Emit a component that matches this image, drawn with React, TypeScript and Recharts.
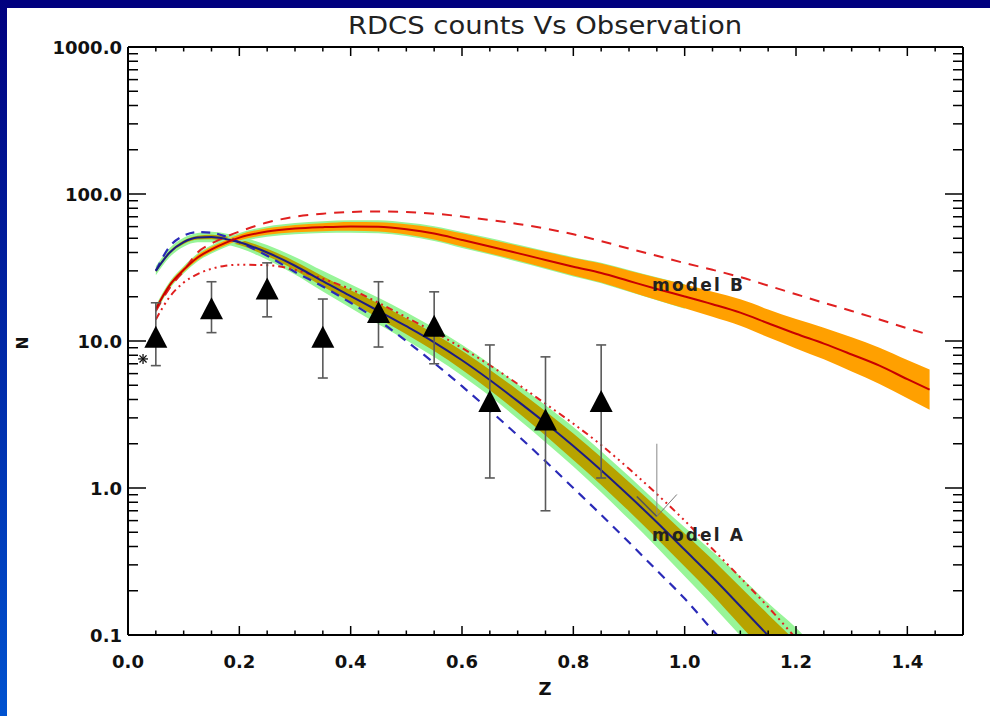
import React from 'react';
import { ComposedChart, Line, Area, Scatter, XAxis, YAxis, ErrorBar, ReferenceLine } from 'recharts';

// ---------------- data ----------------
const zGrid = [0.05, 0.075, 0.1, 0.125, 0.15, 0.175, 0.2, 0.25, 0.3, 0.35, 0.4, 0.45, 0.5, 0.55, 0.6, 0.65, 0.7, 0.75, 0.8, 0.85, 0.9, 0.95, 1.0, 1.05, 1.1, 1.15, 1.2, 1.25, 1.3, 1.35, 1.4, 1.44];

// model A (navy solid) and its bands
const modelA = [30, 40, 47, 50.5, 51, 49.5, 47, 40, 32.5, 25.5, 20.2, 16, 12.6, 9.8, 7.4, 5.43, 3.9, 2.77, 1.93, 1.32, 0.885, 0.585, 0.38, 0.247, 0.157, 0.099, 0.062, 0.038];
const modelAOliveLo = [29.3, 39.1, 45.7, 49.0, 49.3, 47.6, 44.9, 37.8, 30.3, 23.5, 18.4, 14.3, 11.1, 8.54, 6.37, 4.62, 3.28, 2.28, 1.55, 1.05, 0.695, 0.454, 0.292, 0.187, 0.116, 0.0725, 0.0449, 0.0272];
const modelAOliveHi = [30.7, 40.9, 48.3, 52.0, 52.8, 51.5, 49.2, 42.4, 34.8, 27.6, 22.1, 18.0, 14.3, 11.25, 8.59, 6.38, 4.64, 3.33, 2.35, 1.62, 1.10, 0.74, 0.49, 0.326, 0.212, 0.138, 0.09, 0.056];
const modelAGreenLo = [28.0, 37.3, 43.8, 46.9, 47.0, 45.5, 42.9, 35.7, 28.3, 21.7, 16.8, 13.0, 10.1, 7.78, 5.81, 4.22, 2.96, 2.05, 1.40, 0.934, 0.612, 0.396, 0.251, 0.159, 0.099, 0.0625, 0.0382, 0.0229];
const modelAGreenHi = [32.2, 42.9, 50.4, 54.3, 55.3, 53.9, 51.5, 44.9, 37.3, 30.0, 24.3, 19.7, 15.7, 12.3, 9.43, 6.99, 5.08, 3.65, 2.60, 1.78, 1.20, 0.80, 0.54, 0.37, 0.25, 0.165, 0.112, 0.07];
const modelADashDot = [14, 20, 25, 28.5, 31, 32.5, 33, 32.8, 30.5, 26.5, 22.5, 18.2, 14.5, 11.5, 8.97, 6.84, 5.1, 3.74, 2.74, 1.96, 1.35, 0.91, 0.6, 0.385, 0.246, 0.155, 0.095, 0.059];
const modelADashed = [30, 44, 52, 55, 54.5, 51.5, 47, 38, 29.5, 23.5, 18.2, 13.8, 10, 7.08, 4.93, 3.37, 2.28, 1.52, 1.0, 0.657, 0.427, 0.275, 0.177, 0.108, 0.068];

// model B (red solid) and its bands
const modelB = [16.5, 24, 30.5, 37, 42, 46.5, 50.5, 55.5, 58.2, 59.5, 60.2, 59.8, 57.5, 53.8, 48.7, 44, 39.6, 35.6, 32, 29, 25.6, 22.6, 20.1, 17.8, 15.6, 13.2, 11.2, 9.6, 8.1, 6.8, 5.5, 4.67];
const modelBOrangeLo = [15.9, 23.2, 29.5, 35.6, 40.4, 44.6, 48.2, 52.8, 55.0, 55.9, 56.2, 55.6, 53.0, 49.1, 43.9, 39.4, 35.3, 31.4, 27.9, 25.0, 21.8, 19.0, 16.7, 14.6, 12.7, 10.6, 8.9, 7.5, 6.2, 5.1, 4.08, 3.41];
const modelBOrangeHi = [17.1, 24.8, 31.6, 38.4, 43.7, 48.5, 52.9, 58.4, 61.6, 63.3, 64.5, 64.3, 62.3, 59.0, 54.0, 49.1, 44.4, 40.4, 36.7, 33.7, 30.1, 26.9, 24.2, 21.6, 19.2, 16.4, 14.1, 12.3, 10.6, 9.0, 7.42, 6.39];
const modelBGreenLo = [15.6, 22.7, 28.8, 34.8, 39.4, 43.4, 46.9, 51.2, 53.3, 54.3, 54.6, 54.0, 51.7, 47.9, 43.0, 38.7, 34.6, 30.9, 27.5, 24.7, 21.6, 18.9, 16.6];
const modelBGreenHi = [17.5, 25.4, 32.3, 39.4, 44.8, 49.8, 54.3, 60.2, 63.5, 65.2, 66.3, 66.2, 63.9, 60.4, 55.1, 50.1, 45.3, 41.0, 37.2, 34.1, 30.4, 27.1, 24.3];
const modelBDashed = [16, 23, 30, 40, 46, 51, 55.5, 64, 70, 73.5, 75.5, 76.1, 75.5, 73.5, 70.3, 66.6, 62.6, 58.2, 53.2, 47.8, 42.5, 38.0, 33.9, 30.5, 27.2, 23.8, 20.8, 18.2, 16.0, 14.0, 12.2, 11.0];

// observations
const obsZ = [0.05, 0.15, 0.25, 0.35, 0.45, 0.55, 0.65, 0.75, 0.85];
const obsN = [10.6, 16.6, 22.6, 10.6, 15.6, 12.6, 3.87, 2.9, 3.87];
const obsLo = [6.8, 11.4, 14.6, 5.6, 9.1, 7.0, 1.17, 0.70, 1.17];
const obsHi = [18.2, 25.3, 34, 19.3, 25.3, 21.6, 9.4, 7.8, 9.4];

// upper limit and extra point
const limitZ = [0.95, 0.95];
const limitN = [2.0, 0.64];
const starZ = [0.027];
const starN = [7.55];

// ticks
const yTicks = [0.1, 0.2, 0.3, 0.4, 0.5, 0.6, 0.7, 0.8, 0.9, 1, 2, 3, 4, 5, 6, 7, 8, 9, 10, 20, 30, 40, 50, 60, 70, 80, 90, 100, 200, 300, 400, 500, 600, 700, 800, 900, 1000];
const yMajor = [0.1, 1, 10, 100, 1000];
const yLabels = ['0.1', '1.0', '10.0', '100.0', '1000.0'];
const xTicks = [0, 0.05, 0.1, 0.15, 0.2, 0.25, 0.3, 0.35, 0.4, 0.45, 0.5, 0.55, 0.6, 0.65, 0.7, 0.75, 0.8, 0.85, 0.9, 0.95, 1.0, 1.05, 1.1, 1.15, 1.2, 1.25, 1.3, 1.35, 1.4, 1.45, 1.5];
const xMajor = [0, 0.2, 0.4, 0.6, 0.8, 1.0, 1.2, 1.4];
const xLabels = ['0.0', '0.2', '0.4', '0.6', '0.8', '1.0', '1.2', '1.4'];

// ---------------- table built from arrays ----------------
const pair = (lo: number[], hi: number[], i: number) => (i < lo.length ? [lo[i], hi[i]] : undefined);
const rows = zGrid.map((z, i) => ({
  z,
  modelA: modelA[i],
  aOlive: pair(modelAOliveLo, modelAOliveHi, i),
  aGreen: pair(modelAGreenLo, modelAGreenHi, i),
  aDashDot: modelADashDot[i],
  aDashed: modelADashed[i],
  modelB: modelB[i],
  bOrange: pair(modelBOrangeLo, modelBOrangeHi, i),
  bGreen: pair(modelBGreenLo, modelBGreenHi, i),
  bDashed: modelBDashed[i],
}));
const obsRows = obsZ.map((z, i) => ({ z, N: obsN[i], err: [obsN[i] - obsLo[i], obsHi[i] - obsN[i]] }));
const limitRows = limitZ.map((z, i) => ({ z, N: limitN[i] }));
const limitTip = [limitRows[limitRows.length - 1]];
const starRows = starZ.map((z, i) => ({ z, N: starN[i] }));

// ---------------- layout ----------------
const W = 990;
const H = 716;
const LEFT = 128;
const TOP = 47;
const RIGHT_M = 27;
const BOTTOM_M = 81;
const PLOT_W = W - LEFT - RIGHT_M;
const PLOT_H = H - TOP - BOTTOM_M;

const labelFont = { fontFamily: 'DejaVu Sans, sans-serif', fontWeight: 700 as const, fontSize: 18, fill: '#111' };

function YTick(props: any) {
  const { x, y, payload } = props;
  const v = payload.value;
  const mi = yMajor.findIndex((m) => Math.abs(m - v) / m < 1e-6);
  const major = mi >= 0;
  const len = major ? 18 : 10;
  return (
    <g>
      <line x1={x} x2={x + len} y1={y} y2={y} stroke="#000" strokeWidth={1.5} />
      <line x1={x + PLOT_W} x2={x + PLOT_W - len} y1={y} y2={y} stroke="#000" strokeWidth={1.5} />
      {major && (
        <text x={x - 6} y={y + 6.5} textAnchor="end" {...labelFont}>
          {yLabels[mi]}
        </text>
      )}
    </g>
  );
}

function XTick(props: any) {
  const { x, y, payload } = props;
  const v = payload.value;
  const mi = xMajor.findIndex((m) => Math.abs(m - v) < 1e-6);
  const major = mi >= 0;
  const len = major ? 9 : 4.5;
  return (
    <g>
      <line x1={x} x2={x} y1={y} y2={y - len} stroke="#000" strokeWidth={1.5} />
      <line x1={x} x2={x} y1={y - PLOT_H} y2={y - PLOT_H + len} stroke="#000" strokeWidth={1.5} />
      {major && (
        <text x={x} y={y + 33} textAnchor="middle" {...labelFont}>
          {xLabels[mi]}
        </text>
      )}
    </g>
  );
}

function Triangle(props: any) {
  const { cx, cy } = props;
  if (cx == null || cy == null) return <g />;
  return <polygon points={`${cx},${cy - 11.5} ${cx - 11.5},${cy + 10.5} ${cx + 11.5},${cy + 10.5}`} fill="#000" />;
}

function Asterisk(props: any) {
  const { cx, cy } = props;
  if (cx == null || cy == null) return <g />;
  const r = 5;
  const d = r * 0.707;
  return (
    <g stroke="#111" strokeWidth={1.3}>
      <line x1={cx - r} x2={cx + r} y1={cy} y2={cy} />
      <line x1={cx} x2={cx} y1={cy - r} y2={cy + r} />
      <line x1={cx - d} x2={cx + d} y1={cy - d} y2={cy + d} />
      <line x1={cx - d} x2={cx + d} y1={cy + d} y2={cy - d} />
    </g>
  );
}

function Chevron(props: any) {
  const { cx, cy } = props;
  if (cx == null || cy == null) return <g />;
  return (
    <g>
      <line x1={cx - 20} y1={cy - 20} x2={cx} y2={cy} stroke="#555" strokeWidth={1.6} />
      <line x1={cx + 20} y1={cy - 22} x2={cx} y2={cy} stroke="#777" strokeWidth={1} />
    </g>
  );
}

const Empty = () => <g />;

export default function App() {
  return (
    <div style={{ position: 'fixed', left: 0, top: 0, width: W, height: H, background: '#fff', overflow: 'hidden' }}>
      <div style={{ position: 'absolute', left: 0, top: 0, width: W, height: 8, background: '#00007f' }} />
      <div style={{ position: 'absolute', left: 0, top: 0, width: 7, height: H, background: 'linear-gradient(#00007f, #0052d0)' }} />
      <div style={{ position: 'absolute', left: 0, top: 0 }}>
        <ComposedChart width={W} height={H} data={rows} margin={{ top: TOP, right: RIGHT_M, bottom: 0, left: 0 }}>
          <XAxis
            dataKey="z"
            type="number"
            domain={[0, 1.5]}
            allowDataOverflow
            ticks={xTicks}
            interval={0}
            tickSize={0}
            tickMargin={0}
            tickLine={false}
            tick={XTick}
            height={BOTTOM_M}
            axisLine={{ stroke: '#000', strokeWidth: 2 }}
          />
          <YAxis
            type="number"
            scale="log"
            domain={[0.1, 1000]}
            allowDataOverflow
            ticks={yTicks}
            interval={0}
            tickSize={0}
            tickMargin={0}
            tickLine={false}
            tick={YTick}
            width={LEFT}
            axisLine={{ stroke: '#000', strokeWidth: 2 }}
          />
          <Area dataKey="aGreen" type="monotone" stroke="none" fill="#98f598" fillOpacity={1} isAnimationActive={false} dot={false} activeDot={false} />
          <Area dataKey="aOlive" type="monotone" stroke="none" fill="#b7a300" fillOpacity={1} isAnimationActive={false} dot={false} activeDot={false} />
          <Area dataKey="bGreen" type="monotone" stroke="none" fill="#98f598" fillOpacity={1} isAnimationActive={false} dot={false} activeDot={false} />
          <Area dataKey="bOrange" type="monotone" stroke="none" fill="#ffa000" fillOpacity={1} isAnimationActive={false} dot={false} activeDot={false} />
          <Line dataKey="aDashed" type="monotone" stroke="#2a2ab8" strokeWidth={2.2} strokeDasharray="9 7" dot={false} activeDot={false} isAnimationActive={false} />
          <Line dataKey="aDashDot" type="monotone" stroke="#e02020" strokeWidth={2} strokeDasharray="7 4 2 4 2 4 2 4" dot={false} activeDot={false} isAnimationActive={false} />
          <Line dataKey="bDashed" type="monotone" stroke="#e02020" strokeWidth={2} strokeDasharray="10 8" dot={false} activeDot={false} isAnimationActive={false} />
          <Line dataKey="modelA" type="monotone" stroke="#1c1c84" strokeWidth={2} dot={false} activeDot={false} isAnimationActive={false} />
          <Line dataKey="modelB" type="monotone" stroke="#c80000" strokeWidth={2} dot={false} activeDot={false} isAnimationActive={false} />
          <ReferenceLine y={1000} stroke="#000" strokeWidth={2} ifOverflow="visible" />
          <ReferenceLine x={1.5} stroke="#000" strokeWidth={2} ifOverflow="visible" />
          <Scatter data={obsRows} dataKey="N" shape={Triangle} isAnimationActive={false}>
            <ErrorBar dataKey="err" direction="y" width={5} stroke="#5a5a5a" strokeWidth={1.6} isAnimationActive={false} />
          </Scatter>
          <Scatter data={limitRows} dataKey="N" shape={Empty} line={{ stroke: '#888', strokeWidth: 1 }} isAnimationActive={false} />
          <Scatter data={limitTip} dataKey="N" shape={Chevron} isAnimationActive={false} />
          <Scatter data={starRows} dataKey="N" shape={Asterisk} isAnimationActive={false} />
        </ComposedChart>
      </div>
      <svg width={W} height={H} style={{ position: 'absolute', left: 0, top: 0, pointerEvents: 'none' }}>
        <text x={545} y={34} textAnchor="middle" fontFamily="Liberation Sans Narrow, DejaVu Sans Condensed, DejaVu Sans, sans-serif" fontSize={24} fill="#222" textLength={394} lengthAdjust="spacingAndGlyphs">
          RDCS counts Vs Observation
        </text>
        <text x={545} y={695} textAnchor="middle" fontFamily="DejaVu Sans, sans-serif" fontWeight={700} fontSize={18} fill="#111">
          Z
        </text>
        <text x={28} y={343} textAnchor="middle" transform="rotate(-90 28 343)" fontFamily="DejaVu Sans, sans-serif" fontWeight={700} fontSize={15} fill="#111">
          N
        </text>
        <text x={652} y={291} fontFamily="DejaVu Sans, sans-serif" fontWeight={700} fontSize={17} fill="#222" textLength={91} lengthAdjust="spacing">
          model B
        </text>
        <text x={652} y={541} fontFamily="DejaVu Sans, sans-serif" fontWeight={700} fontSize={17} fill="#222" textLength={91} lengthAdjust="spacing">
          model A
        </text>
      </svg>
    </div>
  );
}
